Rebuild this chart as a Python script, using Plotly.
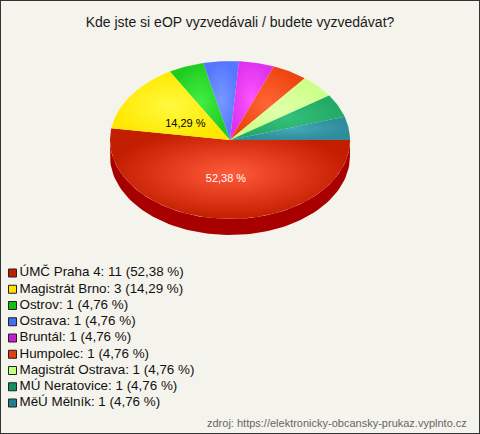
import numpy as np
import plotly.graph_objects as go

# ---- data ----
labels = ["ÚMČ Praha 4", "Magistrát Brno", "Ostrov", "Ostrava", "Bruntál",
          "Humpolec", "Magistrát Ostrava", "MÚ Neratovice", "MěÚ Mělník"]
counts = [11, 3, 1, 1, 1, 1, 1, 1, 1]
colors = ["#C41E00", "#FFE800", "#1ECC1E", "#5577FF", "#DD33EE",
          "#EE4411", "#CCFF88", "#22AA66", "#2F8C9C"]
light_colors = ["#FF5A3A", "#FFFA40", "#44EE44", "#7799FF", "#FF55FF",
                "#FF6633", "#E0FFAA", "#33C07A", "#44A8B8"]
legend_colors = ["#C02000", "#FFE000", "#10C010", "#4070F0", "#C020D0",
                 "#E04010", "#C0FF80", "#109060", "#208090"]
title_text = "Kde jste si eOP vyzvedávali / budete vyzvedávat?"
source_text = "zdroj: https://elektronicky-obcansky-prukaz.vyplnto.cz"

# ---- geometry (pixel-like axis units) ----
W, H = 480, 434
cx, cy, rx, ry, depth = 230, 140, 120, 79, 16

total = sum(counts)
fracs = np.array(counts) / total
pcts = fracs * 100
cum = np.concatenate([[0], np.cumsum(fracs)])


def fmt(p):
    return f"{p:.2f}".replace(".", ",") + " %"


def ell(theta_deg, dy=0.0, f=1.0):
    t = np.radians(theta_deg)
    return cx + f * rx * np.cos(t), cy - f * ry * np.sin(t) + dy


fig = go.Figure()

# side wall (front half, covered by first slice)
a0 = -cum[0] * 360
a1 = max(-cum[1] * 360, -180)
t_top = np.linspace(a0, a1, 80)
xs_t, ys_t = ell(t_top)
xs_b, ys_b = ell(t_top[::-1], dy=depth)
fig.add_trace(go.Scatter(
    x=np.concatenate([xs_t, xs_b]), y=np.concatenate([ys_t, ys_b]),
    fill="toself", mode="lines", line=dict(width=0), fillcolor="#A80000",
    hoverinfo="skip", showlegend=False))

# top faces
for i in range(len(counts)):
    s, e = -cum[i] * 360, -cum[i + 1] * 360
    n = max(3, int(abs(e - s) * 1.5))
    t = np.linspace(s, e, n)
    ex, ey = ell(t)
    xs = np.concatenate([[cx], ex, [cx]])
    ys = np.concatenate([[cy], ey, [cy]])
    fig.add_trace(go.Scatter(
        x=xs, y=ys, fill="toself", mode="lines", line=dict(width=0),
        fillcolor=colors[i],
        fillgradient=dict(type="radial",
                          colorscale=[[0, light_colors[i]], [1, colors[i]]]),
        hoverinfo="skip", showlegend=False))

# slice labels
lx, ly, lt, lc = [], [], [], []
for i in range(len(counts)):
    if pcts[i] > 10:
        mid = -(cum[i] + cum[i + 1]) / 2 * 360
        x, y = ell(mid, dy=4, f=0.45)
        lx.append(x); ly.append(y); lt.append(fmt(pcts[i]))
        lc.append("white" if i == 0 else "black")
fig.add_trace(go.Scatter(
    x=lx, y=ly, text=lt, mode="text", textposition="middle center",
    textfont=dict(family="Liberation Sans, Arial", size=11, color=lc),
    hoverinfo="skip", showlegend=False))

# legend (manual)
leg_y0, leg_dy = 273, 16.25
leg_y = [leg_y0 + i * leg_dy for i in range(len(labels))]
leg_text = [f"{labels[i]}: {counts[i]} ({fmt(pcts[i])})" for i in range(len(labels))]
fig.add_trace(go.Scatter(
    x=[12.5] * len(labels), y=leg_y, mode="markers",
    marker=dict(symbol="square", size=8, color=legend_colors,
                line=dict(width=1, color="#222222")),
    hoverinfo="skip", showlegend=False))
fig.add_trace(go.Scatter(
    x=[19.5] * len(labels), y=leg_y, mode="text",
    text=leg_text, textposition="middle right",
    textfont=dict(family="Liberation Sans, Arial", size=13.4, color="#111111"),
    hoverinfo="skip", showlegend=False))

fig.update_layout(
    width=W, height=H,
    margin=dict(l=0, r=0, t=0, b=0),
    paper_bgcolor="#F4F3EC", plot_bgcolor="#F4F3EC",
    xaxis=dict(range=[0, W], visible=False, fixedrange=True),
    yaxis=dict(range=[H, 0], visible=False, fixedrange=True),
    title=dict(text=title_text, x=0.5, xanchor="center",
               y=1 - 22 / H, yanchor="middle",
               font=dict(family="Liberation Sans, Arial", size=14, color="#1a1a1a")),
    annotations=[dict(text=source_text, x=469, y=423, xref="x", yref="y",
                      xanchor="right", yanchor="middle", showarrow=False,
                      font=dict(family="Liberation Sans, Arial", size=11, color="#666666"))],
    shapes=[dict(type="rect", xref="paper", yref="paper", x0=0, y0=0, x1=1, y1=1,
                 line=dict(color="#333333", width=2))],
)

fig.write_html("out.html", config={"displayModeBar": False},
               post_script="document.body.style.margin='0';document.body.style.overflow='hidden';")
